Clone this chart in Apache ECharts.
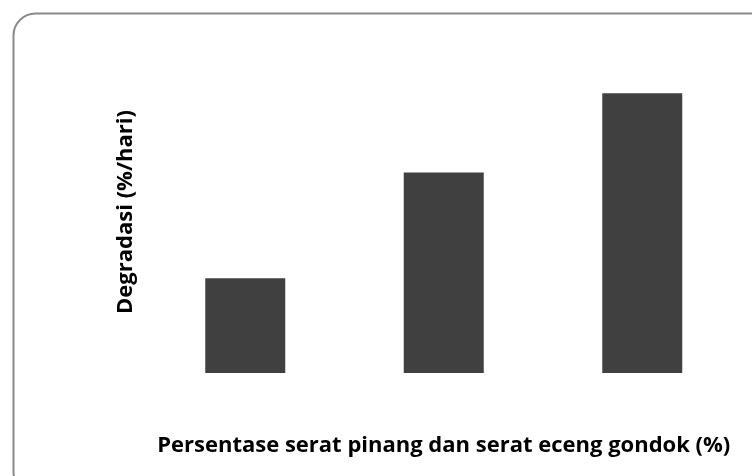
<!DOCTYPE html>
<html>
<head>
<meta charset="utf-8">
<script src="https://cdn.jsdelivr.net/npm/echarts@6/dist/echarts.min.js"></script>
<style>
  html, body { margin: 0; padding: 0; background: #ffffff; }
  #chart { width: 752px; height: 476px; }
</style>
</head>
<body>
<div id="chart"></div>
<script>
// Fibre percentage groups (no tick labels are printed on the axis)
const categories = ['A', 'B', 'C'];
// Degradation rate, %/day
const degradation = [1.03, 2.18, 3.04];
const xAxisTitle = 'Persentase serat pinang dan serat eceng gondok (%)';
const yAxisTitle = 'Degradasi (%/hari)';

const chart = echarts.init(document.getElementById('chart'), null, { renderer: 'canvas' });

const font = '"Open Sans", "Noto Sans", sans-serif';

chart.setOption({
  animation: false,
  backgroundColor: '#ffffff',
  graphic: [{
    type: 'rect',
    shape: { x: 13.5, y: 13.5, width: 760, height: 480, r: 22 },
    style: { fill: 'none', stroke: '#8a8a8a', lineWidth: 2 },
    silent: true,
    z: -1
  }],
  grid: { left: 146, right: 10.5, top: 51, bottom: 103 },
  xAxis: {
    type: 'category',
    data: categories,
    name: xAxisTitle,
    nameLocation: 'middle',
    nameGap: 62,
    nameTextStyle: { fontFamily: font, fontWeight: 'bold', fontSize: 22, color: '#000000' },
    axisLine: { show: false },
    axisTick: { show: false },
    axisLabel: { show: false },
    splitLine: { show: false }
  },
  yAxis: {
    type: 'value',
    min: 0,
    max: 3.5,
    name: yAxisTitle,
    nameLocation: 'middle',
    nameGap: 9,
    nameRotate: 90,
    nameTextStyle: { fontFamily: font, fontWeight: 'bold', fontSize: 22, color: '#000000' },
    axisLine: { show: false },
    axisTick: { show: false },
    axisLabel: { show: false },
    splitLine: { show: false }
  },
  series: [{
    type: 'bar',
    data: degradation,
    barWidth: 80,
    itemStyle: { color: '#404040' }
  }]
});
</script>
</body>
</html>
